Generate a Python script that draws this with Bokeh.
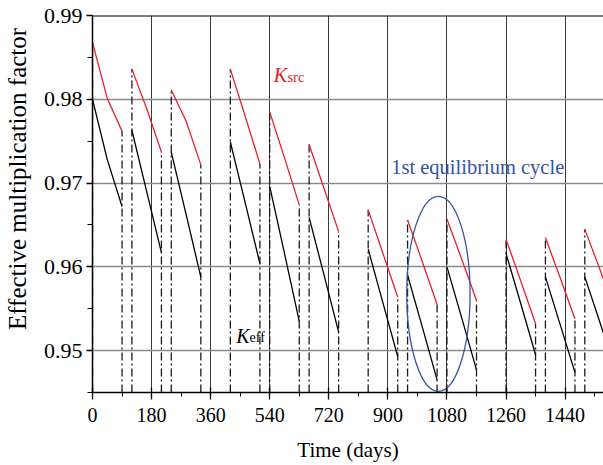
import math
from bokeh.plotting import figure
from bokeh.models import SingleIntervalTicker, Label, Span, FixedTicker
from bokeh.embed import file_html
from bokeh.resources import INLINE

# ---- data ----
cycle_start = [0, 120, 240, 420, 540, 660, 840, 960, 1080, 1260, 1380, 1500]
cycle_end = [90, 210, 330, 510, 630, 750, 930, 1050, 1170, 1350, 1470, 1590]
ksrc_start = [0.9868, 0.9836, 0.9811, 0.9836, 0.9785, 0.9746, 0.9668, 0.9656, 0.9657, 0.9633, 0.9635, 0.9645]
ksrc_mid = [0.9801, 0.9789, 0.9774, 0.9780, 0.9730, 0.9694, 0.9616, 0.9606, 0.9609, 0.9583, 0.9587, 0.9598]
ksrc_end = [0.9762, 0.9737, 0.9722, 0.9723, 0.9674, 0.9642, 0.9564, 0.9555, 0.9560, 0.9532, 0.9538, 0.9550]
keff_start = [0.9800, 0.9763, 0.9737, 0.9749, 0.9696, 0.9659, 0.9621, 0.9590, 0.9600, 0.9616, 0.9588, 0.9588]
keff_mid = [0.9728, 0.9690, 0.9663, 0.9677, 0.9616, 0.9591, 0.9557, 0.9528, 0.9539, 0.9556, 0.9531, 0.9535]
keff_end = [0.9672, 0.9617, 0.9588, 0.9604, 0.9535, 0.9522, 0.9493, 0.9465, 0.9477, 0.9495, 0.9474, 0.9481]

x_ticks = [0, 180, 360, 540, 720, 900, 1080, 1260, 1440]
y_ticks = [0.95, 0.96, 0.97, 0.98, 0.99]
X_MAX = 1557
Y_MIN, Y_MAX = 0.945, 0.99

FONT = "Liberation Serif"
RED = "#e5232b"
BLUE = "#3553a6"

p = figure(width=603, height=465, x_range=(0, X_MAX), y_range=(Y_MIN, Y_MAX),
           output_backend="svg", toolbar_location=None,
           min_border_left=92, min_border_right=0, min_border_top=15, min_border_bottom=73)
p.outline_line_color = None
p.background_fill_color = "white"

# axes
p.xaxis.ticker = SingleIntervalTicker(interval=180, num_minor_ticks=2)
p.yaxis.ticker = SingleIntervalTicker(interval=0.01, num_minor_ticks=2)
for ax in (p.xaxis[0], p.yaxis[0]):
    ax.axis_line_color = "black"
    ax.axis_line_width = 1.5
    ax.major_tick_line_color = "black"
    ax.minor_tick_line_color = "black"
    ax.major_tick_line_width = 1.3
    ax.minor_tick_line_width = 1.0
    ax.major_label_text_font = FONT
    ax.major_label_text_color = "black"
    ax.axis_label_text_font = FONT
    ax.axis_label_text_font_style = "normal"
    ax.axis_label_text_color = "black"
p.xaxis.major_tick_in = 5
p.xaxis.major_tick_out = 7
p.xaxis.minor_tick_in = 0
p.xaxis.minor_tick_out = 4
p.yaxis.major_tick_in = 0
p.yaxis.major_tick_out = 6
p.yaxis.minor_tick_in = 0
p.yaxis.minor_tick_out = 5
p.xaxis.major_label_text_font_size = "20px"
p.yaxis.major_label_text_font_size = "22px"
p.xaxis.major_label_standoff = 8
p.yaxis.major_label_standoff = 4
p.xaxis.major_label_overrides = {t: str(t) for t in x_ticks}
p.yaxis.major_label_overrides = {t: f"{t:.2f}" for t in y_ticks}
p.xaxis.axis_label = "Time (days)"
p.xaxis.axis_label_text_font_size = "21px"
p.xaxis.axis_label_standoff = 13
# leading no-break spaces shift the centred title upward, as in the reference
p.yaxis.axis_label = "\u00a0" * 8 + "Effective multiplication factor"
p.yaxis.axis_label_text_font_size = "25px"
p.yaxis.axis_label_standoff = 10

# grids
p.xgrid.ticker = FixedTicker(ticks=x_ticks)
p.xgrid.grid_line_color = "#3a3a3a"
p.xgrid.grid_line_width = 1.0
p.ygrid.ticker = FixedTicker(ticks=y_ticks)
p.ygrid.grid_line_color = "#8a8a8a"
p.ygrid.grid_line_width = 1.4

p.add_layout(Span(location=Y_MAX, dimension="width", line_color="black", line_width=2))

# vertical dash-dot lines at start and end of each cycle
vx = cycle_start + cycle_end
vy = ksrc_start + ksrc_end
p.segment(x0=vx, y0=[Y_MIN] * len(vx), x1=vx, y1=vy,
          line_color="#1a1a1a", line_width=1.3, line_dash="8 3 2 3")

# cycle curves
xs = [[s, (s + e) / 2, e] for s, e in zip(cycle_start, cycle_end)]
keff_ys = [list(v) for v in zip(keff_start, keff_mid, keff_end)]
ksrc_ys = [list(v) for v in zip(ksrc_start, ksrc_mid, ksrc_end)]
p.multi_line(xs=xs, ys=keff_ys, line_color="black", line_width=1.3)
p.multi_line(xs=xs, ys=ksrc_ys, line_color=RED, line_width=1.3)

# ellipse marking the first equilibrium cycle
p.ellipse(x=[1054], y=[0.95678], width=[193], height=[0.02328],
          fill_color=None, line_color=BLUE, line_width=1.3)

# texts
p.add_layout(Label(x=551.5, y=0.98284, text="K", text_font=FONT, text_font_style="italic",
                   text_font_size="21px", text_color=RED, text_baseline="alphabetic"))
p.add_layout(Label(x=594, y=0.9826, text="src", text_font=FONT,
                   text_font_size="14.5px", text_color=RED, text_baseline="alphabetic"))
p.add_layout(Label(x=437.8, y=0.95179, text="K", text_font=FONT, text_font_style="italic",
                   text_font_size="20px", text_color="black", text_baseline="alphabetic"))
p.add_layout(Label(x=478.4, y=0.95155, text="eff", text_font=FONT,
                   text_font_size="14px", text_color="black", text_baseline="alphabetic"))
p.add_layout(Label(x=910, y=0.97189, text="1st equilibrium cycle", text_font=FONT,
                   text_font_size="20.5px", text_color=BLUE, text_baseline="alphabetic"))

open("out.html", "w").write(file_html(p, INLINE))
